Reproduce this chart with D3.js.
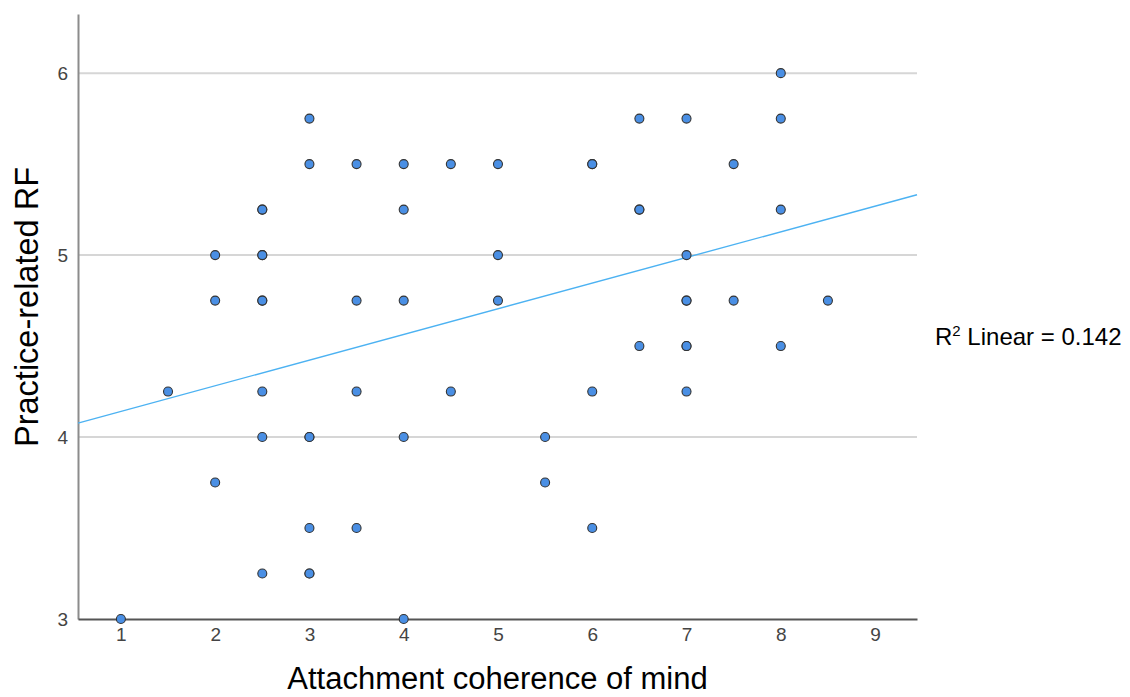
<!DOCTYPE html>
<html>
<head>
<meta charset="utf-8">
<script src="https://cdn.jsdelivr.net/npm/d3@7"></script>
<style>
  html, body { margin: 0; padding: 0; background: #fff; }
  svg { display: block; font-family: "Liberation Sans", Arial, sans-serif; }
</style>
</head>
<body>
<svg id="chart" width="1130" height="697"></svg>
<script>
// Data: attachment coherence of mind (x) vs practice-related RF (y); repeated pairs are overlapping observations
const coherence = [1, 1.5, 2, 2, 2, 2.5, 2.5, 2.5, 2.5, 2.5, 2.5, 2.5, 2.5, 2.5, 3, 3, 3, 3, 3, 3, 3, 3.5, 3.5, 3.5, 3.5,
  4, 4, 4, 4, 4, 4.5, 4.5, 5, 5, 5, 5.5, 5.5, 6, 6, 6, 6, 6.5, 6.5, 6.5, 6.5, 7, 7, 7, 7, 7, 7, 7, 7.5, 7.5, 8, 8, 8, 8, 8.5];
const practiceRF = [3.0, 4.25, 5.0, 4.75, 3.75, 5.25, 5.25, 5.0, 5.0, 4.75, 4.75, 4.25, 4.0, 3.25, 5.75, 5.5, 4.0, 4.0, 3.5, 3.25, 3.25, 5.5, 4.75, 4.25, 3.5,
  5.5, 5.25, 4.75, 4.0, 3.0, 5.5, 4.25, 5.5, 5.0, 4.75, 4.0, 3.75, 5.5, 5.5, 4.25, 3.5, 5.75, 5.25, 5.25, 4.5, 5.75, 5.0, 4.75, 4.75, 4.5, 4.5, 4.25, 5.5, 4.75, 6.0, 5.75, 5.25, 4.5, 4.75];
const xTicks = [1, 2, 3, 4, 5, 6, 7, 8, 9];
const yTicks = [3, 4, 5, 6];
const yGrid = [4, 5, 6];
const fitIntercept = 4.0;
const fitSlope = 0.141;
const xDomain = [0.545, 9.445];
const yDomain = [3, 6.325];
const xTitle = "Attachment coherence of mind";
const yTitle = "Practice-related RF";
const r2Label = { prefix: "R", sup: "2", rest: " Linear = 0.142" };

const svg = d3.select("#chart");
const x = d3.scaleLinear().domain(xDomain).range([78, 917]);
const y = d3.scaleLinear().domain(yDomain).range([619, 14]);

// gridlines
svg.append("g").selectAll("line").data(yGrid).join("line")
  .attr("x1", x(xDomain[0])).attr("x2", x(xDomain[1]))
  .attr("y1", d => y(d)).attr("y2", d => y(d))
  .attr("stroke", "#d6d6d6").attr("stroke-width", 2);

// y axis
const yAxis = svg.append("g").attr("transform", `translate(${x(xDomain[0])},0)`)
  .call(d3.axisLeft(y).tickValues(yTicks).tickSize(0).tickPadding(10).tickFormat(d3.format("d")));
yAxis.select(".domain").attr("stroke", "#8c8c8c").attr("stroke-width", 2);
yAxis.selectAll("text").attr("font-size", 19).attr("fill", "#444").attr("font-family", "Liberation Sans, Arial, sans-serif");

// x axis
const xAxis = svg.append("g").attr("transform", `translate(0,${y(yDomain[0])})`)
  .call(d3.axisBottom(x).tickValues(xTicks).tickSize(0).tickPadding(9).tickFormat(d3.format("d")));
xAxis.select(".domain").attr("stroke", "#555").attr("stroke-width", 2);
xAxis.selectAll("text").attr("font-size", 19).attr("fill", "#444").attr("font-family", "Liberation Sans, Arial, sans-serif");

// fit line
svg.append("line")
  .attr("x1", x(xDomain[0])).attr("y1", y(fitIntercept + fitSlope * xDomain[0]))
  .attr("x2", x(xDomain[1])).attr("y2", y(fitIntercept + fitSlope * xDomain[1]))
  .attr("stroke", "#4cb2f2").attr("stroke-width", 1.4);

// points
svg.append("g").selectAll("circle").data(coherence.map((c, i) => [c, practiceRF[i]])).join("circle")
  .attr("cx", d => x(d[0])).attr("cy", d => y(d[1])).attr("r", 4.5)
  .attr("fill", "#4a8fe4").attr("stroke", "#333").attr("stroke-width", 1.1);

// axis titles
svg.append("text").attr("x", (x(xDomain[0]) + x(xDomain[1])) / 2).attr("y", 689)
  .attr("text-anchor", "middle").attr("font-size", 31).attr("fill", "#000").text(xTitle);
svg.append("text").attr("transform", `translate(38,307) rotate(-90)`)
  .attr("text-anchor", "middle").attr("font-size", 32.5).attr("fill", "#000").text(yTitle);

// R2 label
const r2 = svg.append("text").attr("x", 935).attr("y", 345).attr("font-size", 24).attr("fill", "#000");
r2.append("tspan").text(r2Label.prefix);
r2.append("tspan").attr("font-size", 15).attr("dy", -9).text(r2Label.sup);
r2.append("tspan").attr("dy", 9).text(r2Label.rest);
</script>
</body>
</html>
